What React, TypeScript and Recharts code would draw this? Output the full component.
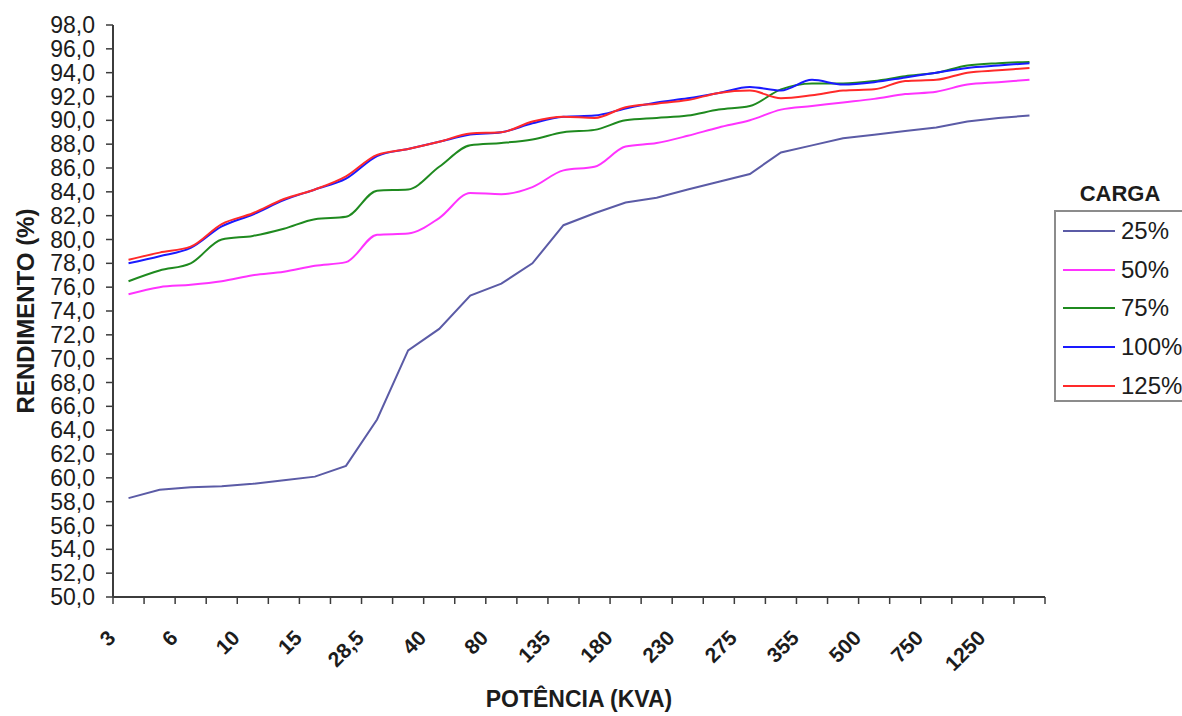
import React from 'react';
import { LineChart, Line, XAxis, YAxis, Legend, Label } from 'recharts';

// potência nominal (kVA) — only every other one is labelled on the axis
const kva = [
  '3', '5', '6', '9', '10', '12', '15', '25', '28,5', '30',
  '40', '45', '80', '112,5', '135', '150', '180', '200', '230', '250',
  '275', '300', '355', '400', '500', '600', '750', '1000', '1250', '1500',
];

const carga25 = [
  58.3, 59.0, 59.2, 59.3, 59.5, 59.8, 60.1, 61.0, 64.9, 70.7,
  72.5, 75.3, 76.3, 78.0, 81.2, 82.2, 83.1, 83.5, 84.2, 84.85,
  85.5, 87.3, 87.9, 88.5, 88.8, 89.1, 89.4, 89.9, 90.2, 90.4,
];
const carga50 = [
  75.4, 76.0, 76.2, 76.5, 77.0, 77.3, 77.8, 78.1, 80.4, 80.5,
  81.8, 83.9, 83.8, 84.4, 85.8, 86.1, 87.8, 88.1, 88.7, 89.4,
  90.0, 90.9, 91.2, 91.5, 91.8, 92.2, 92.4, 93.0, 93.2, 93.4,
];
const carga75 = [
  76.5, 77.4, 78.0, 80.0, 80.3, 80.9, 81.7, 81.9, 84.1, 84.2,
  86.1, 87.9, 88.1, 88.4, 89.0, 89.2, 90.0, 90.2, 90.4, 90.9,
  91.2, 92.6, 93.1, 93.1, 93.3, 93.7, 94.0, 94.6, 94.8, 94.9,
];
const carga100 = [
  78.0, 78.6, 79.3, 81.1, 82.1, 83.3, 84.2, 85.1, 87.0, 87.6,
  88.2, 88.8, 89.0, 89.75, 90.3, 90.4, 91.0, 91.5, 91.85, 92.3,
  92.8, 92.5, 93.4, 93.0, 93.2, 93.6, 94.0, 94.4, 94.6, 94.8,
];
const carga125 = [
  78.3, 78.9, 79.4, 81.3, 82.2, 83.4, 84.2, 85.3, 87.1, 87.6,
  88.2, 88.9, 89.0, 89.9, 90.3, 90.2, 91.1, 91.4, 91.7, 92.3,
  92.5, 91.85, 92.1, 92.5, 92.6, 93.3, 93.4, 94.0, 94.2, 94.4,
];

const cargaLabels = ['25%', '50%', '75%', '100%', '125%'];

const yTicks = [
  50, 52, 54, 56, 58, 60, 62, 64, 66, 68, 70, 72, 74,
  76, 78, 80, 82, 84, 86, 88, 90, 92, 94, 96, 98,
];

const data = kva.map((k, i) => ({
  kva: k,
  c25: carga25[i],
  c50: carga50[i],
  c75: carga75[i],
  c100: carga100[i],
  c125: carga125[i],
}));

const FONT = '"Liberation Sans", Arial, sans-serif';
const INK = '#1c1c1c';
const AXIS = '#3c3c3c';
const FRAME = '#a6a6a6';

const W = 1182;
const H = 716;
const PLOT_W = 932;
const BAND = PLOT_W / kva.length;

function KvaTick(props: any) {
  const { x, y, payload, index } = props;
  const i = payload?.index ?? index;
  const tx = x - 17;
  const ty = y + 37;
  return (
    <g>
      <line x1={x - BAND / 2} x2={x - BAND / 2} y1={y} y2={y + 7} stroke={AXIS} strokeWidth={1.5} />
      {i === kva.length - 1 && (
        <line x1={x + BAND / 2} x2={x + BAND / 2} y1={y} y2={y + 7} stroke={AXIS} strokeWidth={1.5} />
      )}
      {i % 2 === 0 && (
        <text
          x={tx}
          y={ty}
          textAnchor="end"
          dominantBaseline="central"
          transform={`rotate(-45 ${tx} ${ty})`}
          fontFamily={FONT}
          fontWeight="bold"
          fontSize={21}
          fill={INK}
        >
          {payload.value}
        </text>
      )}
    </g>
  );
}

function CargaLegend(props: any) {
  const items = [...(props.payload || [])].sort(
    (a: any, b: any) => cargaLabels.indexOf(a.value) - cargaLabels.indexOf(b.value)
  );
  return (
    <div style={{ fontFamily: FONT, color: INK, width: 170 }}>
      <div style={{ width: 132, textAlign: 'center', fontWeight: 'bold', fontSize: 22, lineHeight: '28px', height: 30 }}>
        CARGA
      </div>
      <div style={{ border: `2px solid #8c8c8c`, height: 192, boxSizing: 'border-box' }}>
        {items.map((it: any) => (
          <div key={it.value} style={{ display: 'flex', alignItems: 'center', height: 38.6 }}>
            <div style={{ width: 52, height: 0, borderTop: `2.5px solid ${it.color}`, marginLeft: 7, marginRight: 6 }} />
            <span style={{ fontSize: 24, whiteSpace: 'nowrap' }}>{it.value}</span>
          </div>
        ))}
      </div>
    </div>
  );
}

export default function App() {
  return (
    <div style={{ width: W, height: H, overflow: 'hidden', position: 'relative', background: '#fff' }}>
      <style>{`body{margin:0}`}</style>
      <LineChart width={W} height={H} data={data} margin={{ top: 25, right: 137, bottom: 19, left: 20 }}>
        <XAxis
          dataKey="kva"
          interval={0}
          height={100}
          padding={{ left: BAND / 2, right: BAND / 2 }}
          axisLine={{ stroke: AXIS, strokeWidth: 2 }}
          tickLine={false}
          tickSize={0}
          tickMargin={0}
          tick={<KvaTick />}
        >
          <Label
            content={(p: any) => {
              const vb = p.viewBox;
              return (
                <text
                  x={vb.x + vb.width / 2}
                  y={707}
                  textAnchor="middle"
                  fontFamily={FONT}
                  fontWeight="bold"
                  fontSize={23}
                  fill={INK}
                >
                  POTÊNCIA (KVA)
                </text>
              );
            }}
          />
        </XAxis>
        <XAxis
          xAxisId="top"
          orientation="top"
          height={0}
          tick={false}
          tickLine={false}
          axisLine={{ stroke: FRAME, strokeWidth: 2 }}
        />
        <YAxis
          domain={[50, 98]}
          ticks={yTicks}
          interval={0}
          width={93}
          tickSize={7}
          tickMargin={11}
          axisLine={{ stroke: AXIS, strokeWidth: 2 }}
          tickLine={{ stroke: AXIS, strokeWidth: 1.5 }}
          tick={{ fontFamily: FONT, fontSize: 23, fill: INK }}
          tickFormatter={(v: number) => v.toFixed(1).replace('.', ',')}
        >
          <Label
            content={(p: any) => {
              const vb = p.viewBox;
              const cx = 25;
              const cy = vb.y + vb.height / 2;
              return (
                <text
                  x={cx}
                  y={cy}
                  textAnchor="middle"
                  dominantBaseline="central"
                  transform={`rotate(-90 ${cx} ${cy})`}
                  fontFamily={FONT}
                  fontWeight="bold"
                  fontSize={24}
                  fill={INK}
                >
                  RENDIMENTO (%)
                </text>
              );
            }}
          />
        </YAxis>
        <YAxis
          yAxisId="right"
          orientation="right"
          width={0}
          domain={[50, 98]}
          tick={false}
          tickLine={false}
          axisLine={{ stroke: FRAME, strokeWidth: 2 }}
        />
        <Legend
          layout="horizontal"
          align="center"
          verticalAlign="middle"
          content={<CargaLegend />}
          wrapperStyle={{ left: 1054, top: 180, width: 170 }}
        />
        <Line type="linear" dataKey="c25" name="25%" stroke="#5b5ba6" strokeWidth={2} dot={false} isAnimationActive={false} />
        <Line type="monotone" dataKey="c50" name="50%" stroke="#ff33ff" strokeWidth={2} dot={false} isAnimationActive={false} />
        <Line type="monotone" dataKey="c75" name="75%" stroke="#1f8a1f" strokeWidth={2} dot={false} isAnimationActive={false} />
        <Line type="monotone" dataKey="c100" name="100%" stroke="#1a1aff" strokeWidth={2} dot={false} isAnimationActive={false} />
        <Line type="monotone" dataKey="c125" name="125%" stroke="#ff2a2a" strokeWidth={2} dot={false} isAnimationActive={false} />
      </LineChart>
    </div>
  );
}
